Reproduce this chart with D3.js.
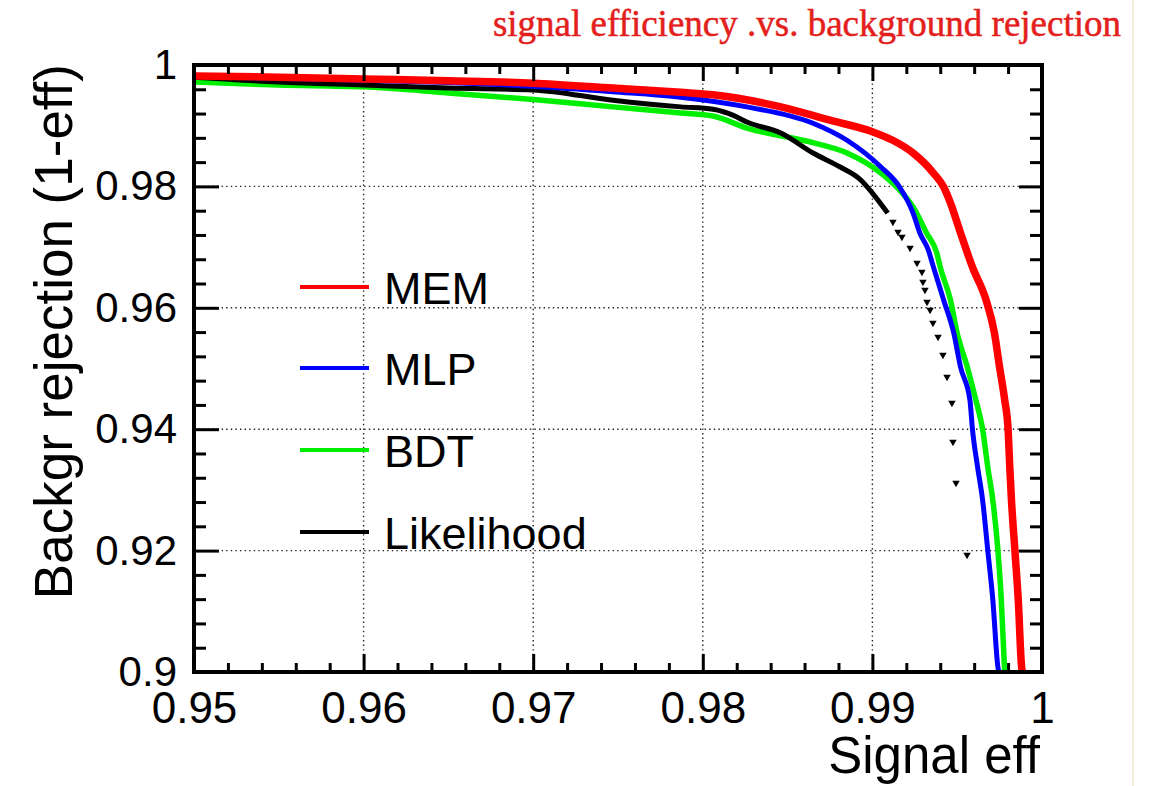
<!DOCTYPE html>
<html>
<head>
<meta charset="utf-8">
<script src="https://cdn.jsdelivr.net/npm/d3@7/dist/d3.min.js"></script>
<style>
  html, body { margin: 0; padding: 0; background: #ffffff; }
  svg { display: block; }
</style>
</head>
<body>
<svg id="chart" width="1156" height="786"></svg>
<script>
// ---------------- DATA ----------------
const seriesNames  = ["MEM", "MLP", "BDT", "Likelihood"];
const seriesColors = ["#ff0000", "#0000ff", "#00ee00", "#000000"];

const memEff = [0.9500,0.9550,0.9600,0.9650,0.9700,0.9747,0.9787,0.9806,0.9846,0.9875,0.9900,0.9912,0.9924,0.9936,0.9942,0.9946,0.9952,0.9959,0.9967,0.9972,0.9975,0.9978,0.9980,0.9981,0.9982,0.9984,0.9986,0.9988,0.99885];
const memRej = [0.9982,0.9980,0.9977,0.9974,0.9970,0.9962,0.9955,0.9951,0.9931,0.9909,0.9890,0.9876,0.9855,0.9822,0.9799,0.9773,0.9723,0.9667,0.9613,0.9558,0.9502,0.9448,0.9400,0.9338,0.9283,0.9201,0.9119,0.9008,0.9000];

const mlpEff = [0.9500,0.9550,0.9600,0.9650,0.9700,0.9747,0.9787,0.9826,0.9865,0.9885,0.9905,0.9916,0.9924,0.9928,0.9933,0.9936,0.9942,0.9948,0.9952,0.99575,0.9959,0.9962,0.9965,0.9968,0.9971,0.9974,0.99745];
const mlpRej = [0.9981,0.9978,0.9975,0.9971,0.9965,0.9956,0.9947,0.9931,0.9904,0.9876,0.9832,0.9799,0.9756,0.9723,0.9695,0.9667,0.9613,0.9558,0.9502,0.9448,0.9400,0.9338,0.9283,0.9201,0.9119,0.9008,0.9000];

const bdtEff = [0.9500,0.9550,0.9600,0.9650,0.9700,0.9747,0.9787,0.9806,0.9826,0.9865,0.9885,0.9905,0.9915,0.9924,0.9932,0.9938,0.9940,0.9946,0.9950,0.9956,0.9961,0.9965,0.9968,0.9971,0.9974,0.9976,0.9978];
const bdtRej = [0.9972,0.9967,0.9964,0.9954,0.9943,0.9931,0.9921,0.9916,0.9896,0.9872,0.9855,0.9822,0.9797,0.9766,0.9723,0.9690,0.9667,0.9613,0.9558,0.9502,0.9448,0.9400,0.9338,0.9283,0.9201,0.9119,0.9000];

const lhEff = [0.9500,0.9550,0.9600,0.9650,0.9700,0.9747,0.9787,0.9806,0.9818,0.9826,0.9846,0.9865,0.9881,0.9893,0.9900,0.9909];
const lhRej = [0.9980,0.9972,0.9967,0.9962,0.9959,0.9942,0.9931,0.9927,0.9917,0.9906,0.9888,0.9855,0.9832,0.9811,0.9789,0.9756];

const lhTailEff = [0.99121,0.99151,0.99174,0.99222,0.99263,0.99292,0.99298,0.99310,0.99322,0.99340,0.99357,0.99387,0.99416,0.99440,0.99469,0.99475,0.99493,0.99558];
const lhTailRej = [0.97414,0.97249,0.97167,0.96985,0.96738,0.96590,0.96425,0.96293,0.96096,0.95964,0.95750,0.95519,0.95223,0.94860,0.94432,0.93789,0.93114,0.91928];

const xMajor = [0.95, 0.96, 0.97, 0.98, 0.99, 1.00];
const xTickLabels = ["0.95", "0.96", "0.97", "0.98", "0.99", "1"];
const yMajor = [0.90, 0.92, 0.94, 0.96, 0.98, 1.00];
const yTickLabels = ["0.9", "0.92", "0.94", "0.96", "0.98", "1"];

const titleText = "signal efficiency .vs. background rejection";
const xTitle = "Signal eff";
const yTitle = "Backgr rejection (1-eff)";

// ---------------- LAYOUT ----------------
const L = 194, R = 1042, T = 65, B = 672;
const svg = d3.select("#chart");
svg.append("rect").attr("width", 1156).attr("height", 786).attr("fill", "#ffffff");

const x = d3.scaleLinear().domain([0.95, 1.0]).range([L, R]);
const y = d3.scaleLinear().domain([0.90, 1.0]).range([B, T]);

const xMinor = d3.range(0, 26).map(i => +(0.95 + i * 0.002).toFixed(4)).filter(v => !xMajor.some(m => Math.abs(m - v) < 1e-9));
const yMinor = d3.range(0, 26).map(i => +(0.90 + i * 0.004).toFixed(4)).filter(v => !yMajor.some(m => Math.abs(m - v) < 1e-9));

// grid
const grid = svg.append("g").attr("stroke", "#222").attr("stroke-width", 1.4).attr("stroke-dasharray", "1.4,3.2");
grid.selectAll(".gx").data(xMajor.slice(1, -1)).join("line")
  .attr("x1", d => x(d)).attr("x2", d => x(d)).attr("y1", T).attr("y2", B);
grid.selectAll(".gy").data(yMajor.slice(1, -1)).join("line")
  .attr("y1", d => y(d)).attr("y2", d => y(d)).attr("x1", L).attr("x2", R);

// ---------------- LEGEND ----------------
const legendRows = [287, 368, 450, 532];   // pixel rows of the legend entries
const leg = svg.append("g");
seriesNames.forEach((name, i) => {
  const ly = legendRows[i];
  leg.append("line").attr("x1", 300).attr("x2", 369).attr("y1", ly).attr("y2", ly)
    .attr("stroke", seriesColors[i]).attr("stroke-width", 4);
  leg.append("text").attr("x", 384).attr("y", ly + 17)
    .attr("font-family", "Liberation Sans, Arial, sans-serif").attr("font-size", 45)
    .attr("fill", "#000").text(name);
});

// ---------------- CURVES ----------------
const toPts = (xs, ys) => xs.map((v, i) => [v, ys[i]]);
const line = d3.line().x(d => x(d[0])).y(d => y(d[1])).curve(d3.curveMonotoneX);
const plot = svg.append("g");

const curves = [
  { pts: toPts(bdtEff, bdtRej), color: seriesColors[2], w: 5.5 },
  { pts: toPts(lhEff, lhRej), color: seriesColors[3], w: 5 },
  { pts: toPts(mlpEff, mlpRej), color: seriesColors[1], w: 5 },
  { pts: toPts(memEff, memRej), color: seriesColors[0], w: 7.5 }
];
curves.forEach(c => {
  plot.append("path").datum(c.pts)
    .attr("d", line).attr("fill", "none")
    .attr("stroke", c.color).attr("stroke-width", c.w)
    .attr("stroke-linejoin", "round").attr("stroke-linecap", "butt");
});

// Likelihood sparse tail: inverted triangle markers
const tri = d3.symbol().type(d3.symbolTriangle).size(24);
plot.selectAll(".lhTail").data(toPts(lhTailEff, lhTailRej)).join("path")
  .attr("d", tri)
  .attr("transform", d => `translate(${x(d[0])},${y(d[1])}) rotate(180)`)
  .attr("fill", seriesColors[3]);

// ---------------- AXES ----------------
const styleAxis = g => { g.select(".domain").remove(); g.selectAll("line").attr("stroke", "#000").attr("stroke-width", 3); };

svg.append("g").attr("transform", `translate(0,${B})`)
  .call(d3.axisBottom(x).tickValues(xMinor).tickSize(-9).tickFormat(""))
  .call(styleAxis);
svg.append("g").attr("transform", `translate(0,${B})`)
  .call(d3.axisBottom(x).tickValues(xMajor).tickSize(-18).tickPadding(20)
        .tickFormat((d, i) => xTickLabels[i]))
  .call(styleAxis)
  .call(g => g.selectAll("text").attr("font-family", "Liberation Sans, Arial, sans-serif")
        .attr("font-size", 44).attr("fill", "#000"));

svg.append("g").attr("transform", `translate(0,${T})`)
  .call(d3.axisTop(x).tickValues(xMinor).tickSize(-9).tickFormat(""))
  .call(styleAxis);
svg.append("g").attr("transform", `translate(0,${T})`)
  .call(d3.axisTop(x).tickValues(xMajor).tickSize(-16).tickFormat(""))
  .call(styleAxis);

svg.append("g").attr("transform", `translate(${L},0)`)
  .call(d3.axisLeft(y).tickValues(yMinor).tickSize(-12).tickFormat(""))
  .call(styleAxis);
svg.append("g").attr("transform", `translate(${L},0)`)
  .call(d3.axisLeft(y).tickValues(yMajor).tickSize(-25).tickPadding(17)
        .tickFormat((d, i) => yTickLabels[i]))
  .call(styleAxis)
  .call(g => g.selectAll("text").attr("font-family", "Liberation Sans, Arial, sans-serif")
        .attr("font-size", 42).attr("fill", "#000"));

svg.append("g").attr("transform", `translate(${R},0)`)
  .call(d3.axisRight(y).tickValues(yMinor).tickSize(-12).tickFormat(""))
  .call(styleAxis);
svg.append("g").attr("transform", `translate(${R},0)`)
  .call(d3.axisRight(y).tickValues(yMajor).tickSize(-23).tickFormat(""))
  .call(styleAxis);

// frame
svg.append("rect").attr("x", L).attr("y", T).attr("width", R - L).attr("height", B - T)
  .attr("fill", "none").attr("stroke", "#000").attr("stroke-width", 4);

// ---------------- TITLES ----------------
svg.append("text").attr("x", 1040).attr("y", 773).attr("text-anchor", "end")
  .attr("font-family", "Liberation Sans, Arial, sans-serif").attr("font-size", 51)
  .attr("fill", "#000").text(xTitle);

svg.append("text").attr("transform", "translate(72,64) rotate(-90)").attr("text-anchor", "end")
  .attr("font-family", "Liberation Sans, Arial, sans-serif").attr("font-size", 53)
  .attr("fill", "#000").text(yTitle);

svg.append("text").attr("x", 1121).attr("y", 36).attr("text-anchor", "end")
  .attr("font-family", "Liberation Serif, Times New Roman, serif").attr("font-size", 37)
  .attr("fill", "#e3201b").attr("stroke", "#e3201b").attr("stroke-width", 0.5)
  .text(titleText);

// faint right border of the screenshot
svg.append("line").attr("x1", 1133).attr("x2", 1133).attr("y1", 0).attr("y2", 786)
  .attr("stroke", "#efe6d2").attr("stroke-width", 1.5);
</script>
</body>
</html>
